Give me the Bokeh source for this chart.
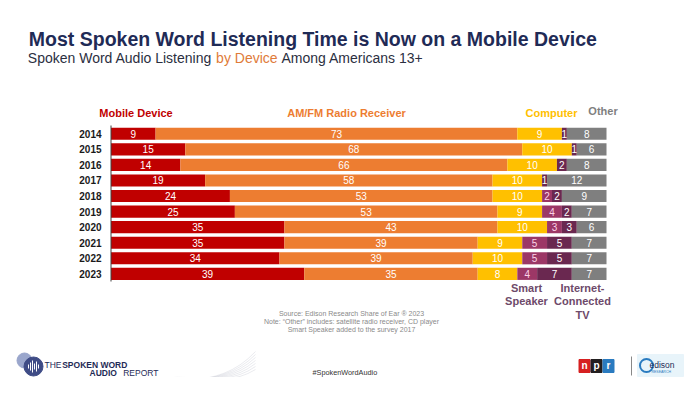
import numpy as np
from bokeh.plotting import figure
from bokeh.models import Range1d, ColumnDataSource
from bokeh.core.properties import value
from bokeh.embed import file_html
from bokeh.resources import INLINE

# ---------------- data ----------------
years = ["2014", "2015", "2016", "2017", "2018", "2019", "2020", "2021", "2022", "2023"]
mobile = [9, 15, 14, 19, 24, 25, 35, 35, 34, 39]
am_fm = [73, 68, 66, 58, 53, 53, 43, 39, 39, 35]
computer = [9, 10, 10, 10, 10, 9, 10, 9, 10, 8]
smart_speaker = [0, 0, 0, 0, 2, 4, 3, 5, 5, 4]
connected_tv = [1, 1, 2, 1, 2, 2, 3, 5, 5, 7]
other = [8, 6, 8, 12, 9, 7, 6, 7, 7, 7]

series_keys = ["mobile", "am_fm", "computer", "smart_speaker", "connected_tv", "other"]
series_names = ["Mobile Device", "AM/FM Radio Receiver", "Computer", "Smart Speaker",
                "Internet-Connected TV", "Other"]
series_colors = ["#C00000", "#ED7D31", "#FFC000", "#9C3766", "#6A2850", "#7F7F7F"]
label_colors = ["#FFFFFF", "#FFFFFF", "#FFFFFF", "#FBD3E6", "#FFFFFF", "#FFFFFF"]

title = "Most Spoken Word Listening Time is Now on a Mobile Device"
sub_a, sub_b, sub_c = "Spoken Word Audio Listening ", "by Device ", "Among Americans 13+"
notes = ["Source: Edison Research Share of Ear \u00ae 2023",
         "Note: \u201cOther\u201d includes: satellite radio receiver, CD player",
         "Smart Speaker added to the survey 2017"]

# ---------------- geometry helpers (page pixels -> data units) ----------------
W, H = 684, 377
PX, X0 = 4.955, 110.5     # pixels per percent, x of 0%
PY, Y0 = 15.56, 133.3     # pixels per row, y of first row


def X(px):
    return (px - X0) / PX


def Y(py):
    return (py - Y0) / PY


p = figure(width=W, height=H, x_range=Range1d(X(0), X(W)), y_range=Range1d(Y(H), Y(0)),
           output_backend="svg", toolbar_location=None, min_border=0,
           x_axis_location=None, y_axis_location=None)
p.grid.visible = False
p.outline_line_color = None
p.background_fill_color = "white"
p.border_fill_color = "white"

FONT = value("Liberation Sans")

rows = list(range(len(years)))
data = dict(row=rows, year=years, mobile=mobile, am_fm=am_fm, computer=computer,
            smart_speaker=smart_speaker, connected_tv=connected_tv, other=other)
src = ColumnDataSource(data)
p.hbar_stack(series_keys, y="row", height=0.78, color=series_colors, line_color=None, source=src)

# value labels inside segments
vals = np.array([data[k] for k in series_keys], dtype=float)
lefts = np.vstack([np.zeros(len(years)), np.cumsum(vals, axis=0)[:-1]])
lx, ly, lt, lc = [], [], [], []
for i in range(len(series_keys)):
    for r in rows:
        v = vals[i, r]
        if v > 0:
            lx.append(lefts[i, r] + v / 2)
            ly.append(r)
            lt.append(str(int(v)))
            lc.append(label_colors[i])
p.text(x="x", y="y", text="t", text_color="c",
       source=ColumnDataSource(dict(x=lx, y=ly, t=lt, c=lc)),
       text_font=FONT, text_font_size="10px", text_align="center", text_baseline="middle")

# year labels and axis line
p.text(x=[X(101)] * len(years), y=rows, text=years, text_font=FONT, text_font_size="10px",
       text_font_style="bold", text_color="#1A1A1A", text_align="right", text_baseline="middle")
p.segment(x0=[0], y0=[Y(125)], x1=[0], y1=[Y(281)], line_color="#404040", line_width=1)


def txt(px, py, s, size, color, bold=False, align="left"):
    p.text(x=[X(px)], y=[Y(py)], text=[s], text_font=FONT, text_font_size=f"{size}px",
           text_font_style="bold" if bold else "normal", text_color=color,
           text_align=align, text_baseline="middle")


# titles (y = visual middle of the line)
txt(28.3, 38, title, 19.5, "#1F2B56", bold=True)
fs = 14
txt(27.3, 57.7, sub_a, fs, "#2B2F3F")
txt(27.3 + 13.451 * fs, 57.7, sub_b, fs, "#E07B39")
txt(27.3 + (13.451 + 4.668) * fs, 57.7, sub_c, fs, "#2B2F3F")

# series headers
txt(135.5, 112.5, series_names[0], 11, series_colors[0], bold=True, align="center")
txt(346, 112.5, series_names[1], 11, series_colors[1], bold=True, align="center")
txt(551, 112, series_names[2], 11, series_colors[2], bold=True, align="center")
txt(602.5, 110, series_names[5], 11, series_colors[5], bold=True, align="center")
lab_col = "#6E4A6A"
txt(526, 287, "Smart", 11, lab_col, bold=True, align="center")
txt(526, 300.5, "Speaker", 11, lab_col, bold=True, align="center")
txt(582, 287, "Internet-", 11, lab_col, bold=True, align="center")
txt(582, 300.5, "Connected", 11, lab_col, bold=True, align="center")
txt(582, 314, "TV", 11, lab_col, bold=True, align="center")

# notes
for k, line in enumerate(notes):
    txt(351, 312.7 + 8.3 * k, line, 7, "#8A8A8A", align="center")

# ---------------- footer (kept inside the 377px canvas) ----------------
# swoosh
for k in range(7):
    p.bezier(x0=[X(110 + 4 * k)], y0=[Y(392)], x1=[X(255)], y1=[Y(351 + 3 * k)],
             cx0=[X(170)], cy0=[Y(371 - 2 * k)], cx1=[X(215)], cy1=[Y(394)],
             line_color="#9AA0B4", line_alpha=0.35, line_width=0.6)
# icon
p.scatter(x=[X(24)], y=[Y(360)], size=15, marker="circle", color="#9AA6CC")
p.scatter(x=[X(33)], y=[Y(366)], size=19, marker="circle", color="#3F4C86")
for k, hh in enumerate([2, 4, 6, 3, 5, 2]):
    cx = 28 + 2 * k
    p.segment(x0=[X(cx)], y0=[Y(366 - hh)], x1=[X(cx)], y1=[Y(366 + hh)],
              line_color="white", line_width=1)
txt(44, 364, "THE ", 8.5, "#1F2B56")
txt(61.7, 364, "SPOKEN WORD", 8.5, "#1F2B56", bold=True)
txt(89, 372, "AUDIO ", 8.5, "#1F2B56", bold=True)
txt(122.7, 372, "REPORT", 8.5, "#1F2B56")
txt(312, 372, "#SpokenWordAudio", 7.3, "#333333")

# npr
for k, (c, ch) in enumerate(zip(["#D62021", "#231F20", "#2A7BC0"], ["n", "p", "r"])):
    cx = 584 + 12 * k
    p.rect(x=[X(cx)], y=[Y(365.5)], width=11 / PX, height=13 / PY, color=c)
    txt(cx, 365, ch, 10, "white", bold=True, align="center")
p.segment(x0=[X(631)], y0=[Y(356)], x1=[X(631)], y1=[Y(375)], line_color="#888888", line_width=1)
# edison
p.rect(x=[X(660)], y=[Y(365)], width=46 / PX, height=22 / PY, color="#E8F4FA")
p.scatter(x=[X(646)], y=[Y(365)], size=13, marker="circle", fill_color=None,
          line_color="#2A7BC0", line_width=2)
txt(649, 364, "edison", 8.5, "#1F2B56")
txt(651, 371.5, "RESEARCH", 3.5, "#2A7BC0")

open("out.html", "w").write(file_html(p, INLINE))
